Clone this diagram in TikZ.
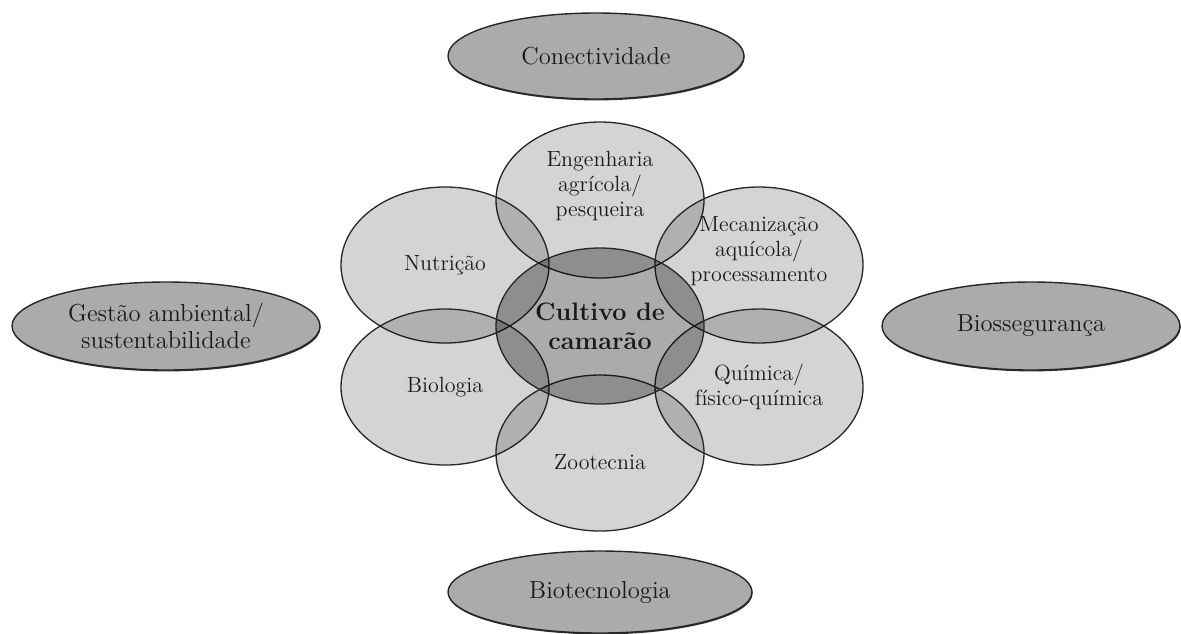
\documentclass[tikz,border=0pt]{standalone}
\usetikzlibrary{shapes.geometric,shadows}
\begin{document}
\begin{tikzpicture}[x=0.5pt, y=-0.5pt,
    petal/.style={ellipse, draw=black!85, line width=0.65pt, fill=black, fill opacity=0.17, text opacity=1, text=black!90, inner sep=0pt, minimum width=104pt, minimum height=78pt, align=center, font=\fontsize{11}{12.5}\selectfont},
    core/.style={petal, fill opacity=0.33, font=\fontsize{12.6}{14.5}\selectfont\bfseries},
    area/.style={ellipse, draw=black!85, line width=0.7pt, fill=black!33, text=black!90, inner sep=0pt, align=center, font=\fontsize{12.3}{13.5}\selectfont, drop shadow={shadow xshift=0.3pt, shadow yshift=-0.7pt, opacity=1, fill=black!80}}]
    \useasboundingbox (0,0) rectangle (1181,633);

    % areas around the culture
    \node[area, minimum width=148pt, minimum height=43pt] (conect) at (596,56) {Conectividade};
    \node[area, minimum width=152pt, minimum height=41pt] (biotec) at (600,592) {Biotecnologia};
    \node[area, minimum width=154pt, minimum height=44pt] (gestao) at (166,326) {Gestão ambiental/\\sustentabilidade};
    \node[area, minimum width=149pt, minimum height=44pt] (biosseg) at (1031,326) {Biossegurança};

    % petals
    \node[petal, text depth=16pt] (engenharia) at (600,200) {Engenharia\\agrícola/\\pesqueira};
    \node[petal] (nutricao) at (445,265) {Nutrição};
    \node[petal, text depth=16pt] (mecanizacao) at (759,265) {Mecanização\\aquícola/\\processamento};
    \node[petal] (biologia) at (445,387) {Biologia};
    \node[petal] (quimica) at (759,387) {Química/\\físico-química};
    \node[petal, text height=17pt] (zootecnia) at (600,453) {Zootecnia};

    \node[core] (cultivo) at (600,326) {Cultivo de\\camarão};
\end{tikzpicture}
\end{document}
